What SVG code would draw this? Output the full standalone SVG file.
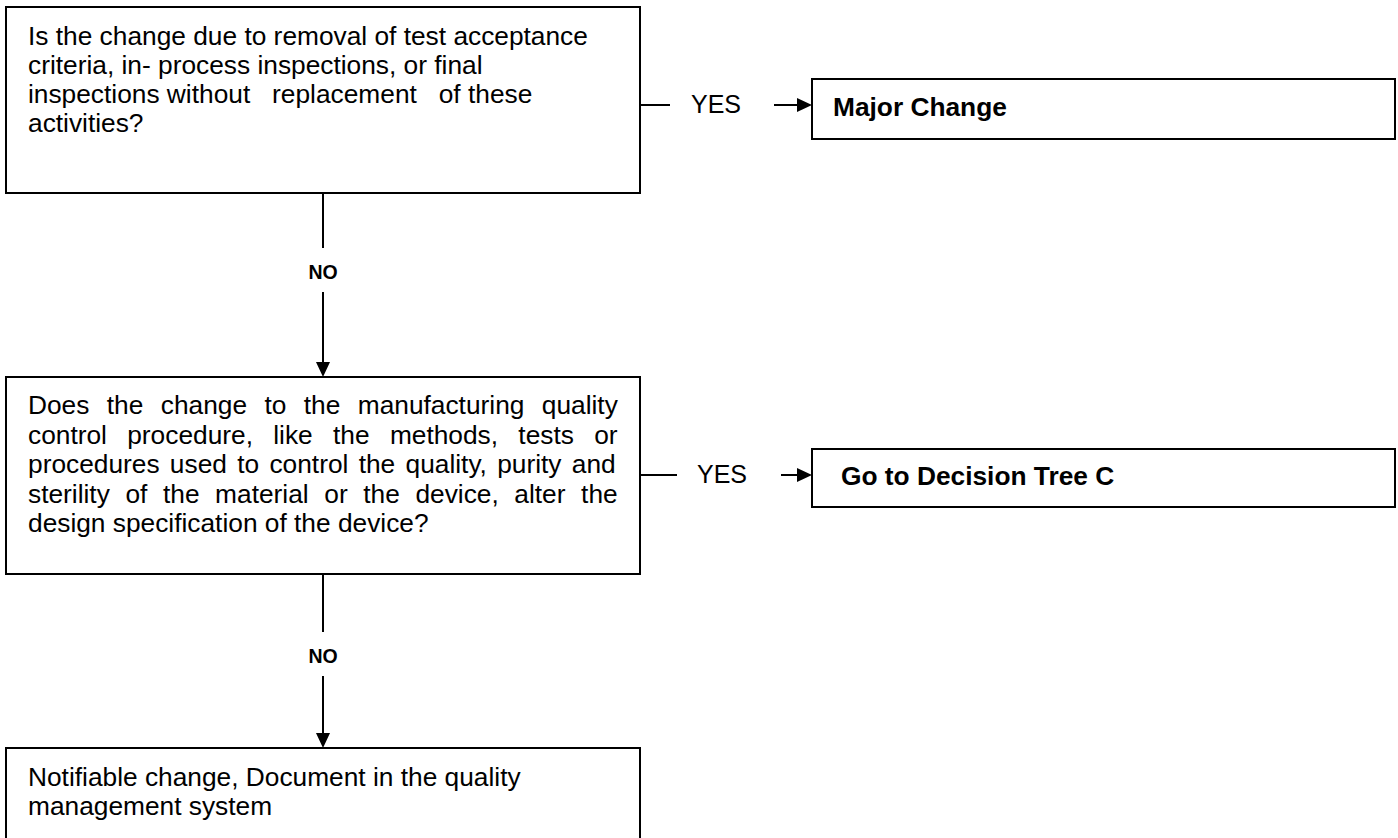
<svg xmlns="http://www.w3.org/2000/svg" width="1398" height="838" viewBox="0 0 1398 838">
<style>
.box{fill:#fff;stroke:#000;stroke-width:2}
.t{font-family:"Liberation Sans",Arial,sans-serif;font-size:26.3px;fill:#000}
.b{font-family:"Liberation Sans",Arial,sans-serif;font-size:26.3px;font-weight:bold;fill:#000}
.lbl{font-family:"Liberation Sans",Arial,sans-serif;font-size:25px;fill:#000}
.no{font-family:"Liberation Sans",Arial,sans-serif;font-size:19.5px;font-weight:bold;fill:#000;text-anchor:middle}
.c{stroke:#000;stroke-width:2;fill:none}
</style>
<defs>
<marker id="ah" markerUnits="userSpaceOnUse" markerWidth="15" markerHeight="14" refX="10" refY="7" orient="auto">
<path d="M0,0 L15,7 L0,14 z" fill="#000"/>
</marker>
</defs>
<rect width="1398" height="838" fill="#fff"/>
<g id="q1">
<rect class="box" x="6" y="7" width="634" height="186"/>
<text class="t" xml:space="preserve"><tspan x="28" y="45">Is the change due to removal of test acceptance</tspan><tspan x="28" y="74">criteria, in- process inspections, or final</tspan><tspan x="28" y="103">inspections without   replacement   of these</tspan><tspan x="28" y="132">activities?</tspan></text>
</g>
<g id="major">
<rect class="box" x="812" y="79" width="583" height="60"/>
<text class="b" x="833" y="116">Major Change</text>
</g>
<g id="q2">
<rect class="box" x="6" y="377" width="634" height="197"/>
<text class="t"><tspan x="28" y="414" word-spacing="10.1">Does the change to the manufacturing quality</tspan><tspan x="28" y="443.5" word-spacing="13.0">control procedure, like the methods, tests or</tspan><tspan x="28" y="473" word-spacing="3.0">procedures used to control the quality, purity and</tspan><tspan x="28" y="502.5" word-spacing="8.3">sterility of the material or the device, alter the</tspan><tspan x="28" y="532">design specification of the device?</tspan></text>
</g>
<g id="treeC">
<rect class="box" x="812" y="449" width="583" height="58"/>
<text class="b" x="841" y="485">Go to Decision Tree C</text>
</g>
<g id="notifiable">
<rect class="box" x="6" y="748" width="634" height="110"/>
<text class="t"><tspan x="28" y="786">Notifiable change, Document in the quality</tspan><tspan x="28" y="815">management system</tspan></text>
</g>
<g id="connectors">
<line class="c" x1="323" y1="193" x2="323" y2="248"/>
<text class="no" x="323" y="279">NO</text>
<line class="c" x1="323" y1="292" x2="323" y2="372" marker-end="url(#ah)"/>
<line class="c" x1="323" y1="574" x2="323" y2="632"/>
<text class="no" x="323" y="663">NO</text>
<line class="c" x1="323" y1="676" x2="323" y2="743" marker-end="url(#ah)"/>
<line class="c" x1="640" y1="105" x2="670" y2="105"/>
<text class="lbl" x="691" y="113">YES</text>
<line class="c" x1="774" y1="105" x2="807" y2="105" marker-end="url(#ah)"/>
<line class="c" x1="640" y1="475" x2="677" y2="475"/>
<text class="lbl" x="697" y="483">YES</text>
<line class="c" x1="781" y1="475" x2="807" y2="475" marker-end="url(#ah)"/>
</g>
</svg>
